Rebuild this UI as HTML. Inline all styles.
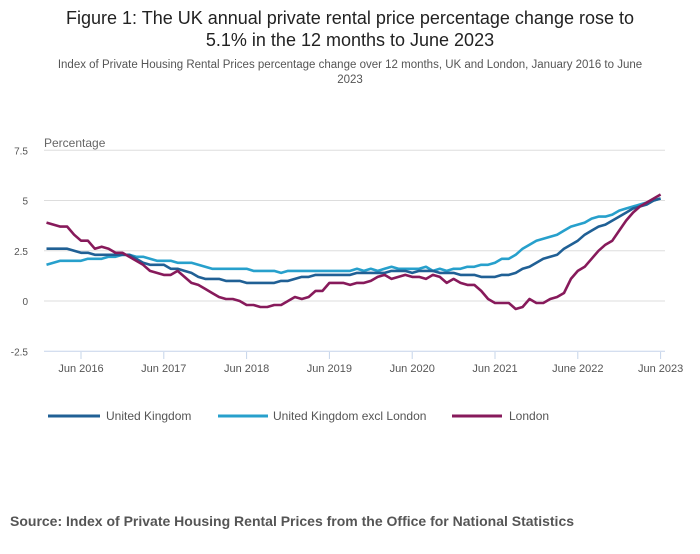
<!DOCTYPE html>
<html><head><meta charset="utf-8"><style>
body{margin:0;width:700px;height:549px;background:#fff;font-family:"Liberation Sans",sans-serif;overflow:hidden}
</style></head><body>
<svg width="700" height="549" font-family="Liberation Sans, sans-serif">
<text x="350" y="24" text-anchor="middle" font-size="18" fill="#222">Figure 1: The UK annual private rental price percentage change rose to</text>
<text x="350" y="46" text-anchor="middle" font-size="18" fill="#222">5.1% in the 12 months to June 2023</text>
<text x="350" y="68" text-anchor="middle" font-size="11.5" fill="#555">Index of Private Housing Rental Prices percentage change over 12 months, UK and London, January 2016 to June</text>
<text x="350" y="83" text-anchor="middle" font-size="11.5" fill="#555">2023</text>
<text x="44" y="147" font-size="12" fill="#666">Percentage</text>
<g id="grid"></g><g id="xaxis"></g><g id="series"></g>
<g>
<line x1="48" y1="416" x2="100" y2="416" stroke="#206095" stroke-width="3"/>
<text x="106" y="420" font-size="12" fill="#555">United Kingdom</text>
<line x1="218" y1="416" x2="268" y2="416" stroke="#27a0cc" stroke-width="3"/>
<text x="273" y="420" font-size="12" fill="#555">United Kingdom excl London</text>
<line x1="452" y1="416" x2="502" y2="416" stroke="#871a5b" stroke-width="3"/>
<text x="509" y="420" font-size="12" fill="#555">London</text>
</g>
<text x="10" y="526" font-size="14" font-weight="bold" fill="#555">Source: Index of Private Housing Rental Prices from the Office for National Statistics</text>
</svg>
<script>
const yTicks=[7.5,5,2.5,0,-2.5];
const yTickLabels=["7.5","5","2.5","0","-2.5"];
const xTickMonths=[5,17,29,41,53,65,77,89];
const xTickLabels=["Jun 2016","Jun 2017","Jun 2018","Jun 2019","Jun 2020","Jun 2021","June 2022","Jun 2023"];
const ukValues=[2.6,2.6,2.6,2.6,2.5,2.4,2.4,2.3,2.3,2.3,2.3,2.3, 2.3,2.1,1.9,1.8,1.8,1.8,1.6,1.6,1.5,1.4,1.2,1.1, 1.1,1.1,1.0,1.0,1.0,0.9,0.9,0.9,0.9,0.9,1.0,1.0, 1.1,1.2,1.2,1.3,1.3,1.3,1.3,1.3,1.3,1.4,1.4, 1.4,1.4,1.4,1.5,1.5,1.5,1.4,1.5,1.5,1.5,1.4,1.4, 1.4,1.3,1.3,1.3,1.2,1.2,1.2,1.3,1.3,1.4,1.6,1.7, 1.9,2.1,2.2,2.3,2.6,2.8,3.0,3.3,3.5,3.7,3.8,4.0, 4.2,4.4,4.6,4.7,4.8,5.0,5.1];
const ukExclLondonValues=[1.8,1.9,2.0,2.0,2.0,2.0,2.1,2.1,2.1,2.2,2.2,2.3, 2.3,2.2,2.2,2.1,2.0,2.0,2.0,1.9,1.9,1.9,1.8,1.7, 1.6,1.6,1.6,1.6,1.6,1.6,1.5,1.5,1.5,1.5,1.4,1.5, 1.5,1.5,1.5,1.5,1.5,1.5,1.5,1.5,1.5,1.6,1.5,1.6, 1.5,1.6,1.7,1.6,1.6,1.6,1.6,1.7,1.5,1.6,1.5,1.6, 1.6,1.7,1.7,1.8,1.8,1.9,2.1,2.1,2.3,2.6,2.8,3.0, 3.1,3.2,3.3,3.5,3.7,3.8,3.9,4.1,4.2,4.2,4.3,4.5, 4.6,4.7,4.8,4.9,5.0,5.1];
const londonValues=[3.9,3.8,3.7,3.7,3.3,3.0,3.0,2.6,2.7,2.6,2.4,2.4, 2.2,2.0,1.8,1.5,1.4,1.3,1.3,1.5,1.2,0.9,0.8,0.6, 0.4,0.2,0.1,0.1,0.0,-0.2,-0.2,-0.3,-0.3,-0.2,-0.2,0.0, 0.2,0.1,0.2,0.5,0.5,0.9,0.9,0.9,0.8,0.9,0.9,1.0, 1.2,1.3,1.1,1.2,1.3,1.2,1.2,1.1,1.3,1.2,0.9,1.1, 0.9,0.8,0.8,0.5,0.1,-0.1,-0.1,-0.1,-0.4,-0.3,0.1,-0.1, -0.1,0.1,0.2,0.4,1.1,1.5,1.7,2.1,2.5,2.8,3.0,3.5, 4.0,4.4,4.7,4.9,5.1,5.3];
const NS="http://www.w3.org/2000/svg";
function X(m){return 46.5+m*6.9;}
function Y(v){return 301-v*20.1;}
function el(t,a,p){const e=document.createElementNS(NS,t);for(const k in a)e.setAttribute(k,a[k]);p.appendChild(e);return e;}
const grid=document.getElementById('grid');
yTicks.forEach((v,i)=>{
 const l=el('line',{x1:44,x2:665,y1:Y(v),y2:Y(v),stroke:i==yTicks.length-1?'#c5d4ea':'#ddd','stroke-width':1},grid);
 
 
 const t=el('text',{x:28,y:Y(v)+4,'text-anchor':'end','font-size':10,fill:'#555'},grid);
 t.textContent=yTickLabels[i];
 
 
});
const xa=document.getElementById('xaxis');
xTickMonths.forEach((m,i)=>{
 const l=el('line',{x1:X(m),x2:X(m),y1:352,y2:359,stroke:'#c5d4ea'},xa);
 
 
 const t=el('text',{x:X(m),y:372,'text-anchor':'middle','font-size':11,fill:'#555'},xa);
 t.textContent=xTickLabels[i];
 
 
});
const sg=document.getElementById('series');
[[ukExclLondonValues,'#27a0cc','line-uk-excl-london'],[ukValues,'#206095','line-uk'],[londonValues,'#871a5b','line-london']].forEach(s=>{
 const d=s[0].map((v,i)=>(i?'L':'M')+X(i).toFixed(1)+','+Y(v).toFixed(1)).join('');
 const p=el('path',{d:d,fill:'none',stroke:s[1],'stroke-width':2.6,'stroke-linejoin':'round'},sg);
 
 
});
</script>
</body></html>
